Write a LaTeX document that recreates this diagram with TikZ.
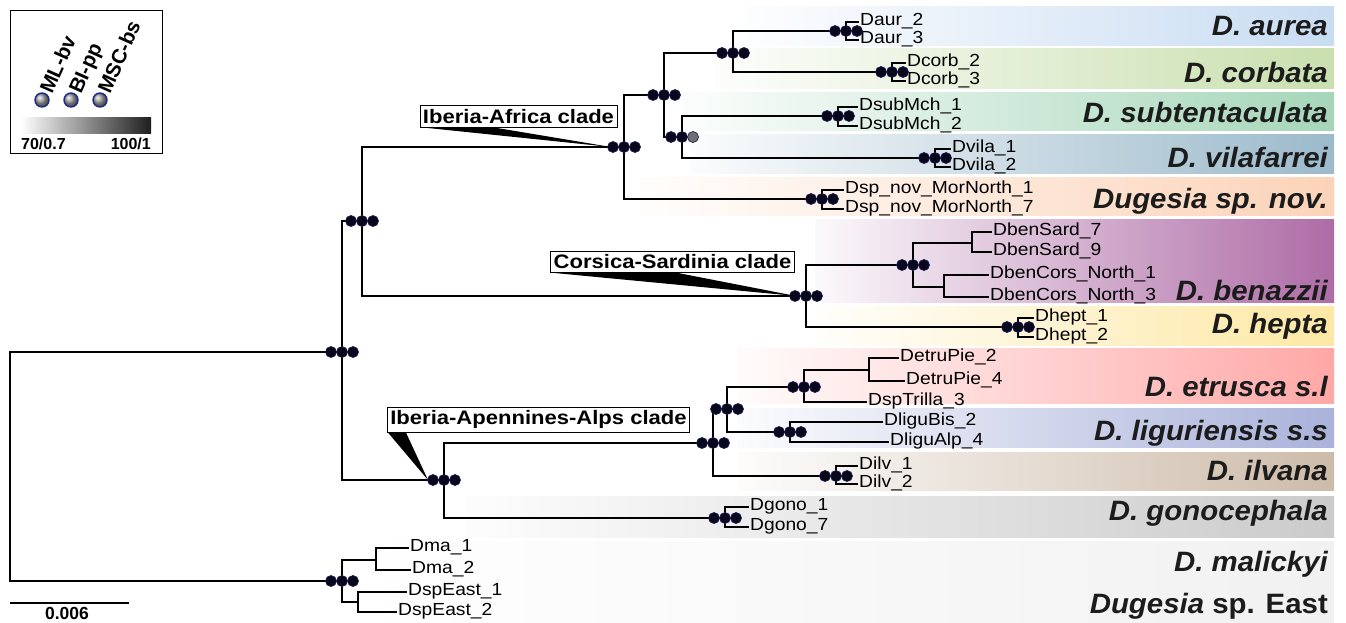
\documentclass[tikz,border=0pt]{standalone}
\usepackage{fontspec}
\setmainfont{Liberation Sans}
\newfontfamily\tipf[FakeStretch=1.1]{Liberation Sans}
\newfontfamily\spf[FakeStretch=1.05]{Liberation Sans}
\newfontfamily\clf[FakeStretch=1.13]{Liberation Sans}
\usetikzlibrary{calc}
\definecolor{aureaC}{HTML}{C8DCF2}
\definecolor{corbC}{HTML}{C9DFAE}
\definecolor{subC}{HTML}{A5D6B9}
\definecolor{vilaC}{HTML}{9CBACB}
\definecolor{novC}{HTML}{FCD3B8}
\definecolor{benC}{HTML}{AE6CA6}
\definecolor{hepC}{HTML}{FDE8A4}
\definecolor{etrC}{HTML}{FFA8A6}
\definecolor{ligC}{HTML}{A9B2DA}
\definecolor{ilvC}{HTML}{CDBBA9}
\definecolor{gonC}{HTML}{CBCBCB}
\definecolor{malC}{HTML}{F1F1F1}
\definecolor{dotfill}{HTML}{08081A}
\definecolor{dotedge}{HTML}{1E1E5A}
\definecolor{greydot}{HTML}{707070}
\definecolor{navyC}{HTML}{1F2A8A}
\definecolor{spc}{HTML}{1C1C1C}
\newcommand{\trip}[2][dotfill]{%
  \foreach \dx in {-11pt,0pt} {\path[dotc] (#2) ++(\dx,0pt) circle (5.5pt);}
  \path[dotc, fill=#1] (#2) ++(11pt,0pt) circle (5.5pt);}
\newcommand{\tipl}[4]{%
  \coordinate (#1) at (#2);
  \draw[br] (#3) |- (#1);
  \node[tip] (#1l) at ([xshift=2pt,yshift=-3.5pt]#1) {#4};}
\newcommand{\band}[5]{\shade[left color=#5!4!white, right color=#5] (#1,#2) rectangle (#3,#4);}
\begin{document}
\begin{tikzpicture}[x=1pt,y=-1pt,
  br/.style={line width=1.8pt, line join=miter, line cap=rect},
  dotc/.style={fill=dotfill, draw=dotedge, line width=0.7pt},
  tip/.style={anchor=base west, inner sep=0pt, font=\tipf\fontsize{17.5}{20}\selectfont},
  spec/.style={anchor=base east, inner sep=0pt, text=spc, font=\spf\bfseries\itshape\fontsize{28}{30}\selectfont},
  clade/.style={draw=black, line width=0.8pt, fill=white, inner xsep=3pt, inner ysep=3.5pt, font=\clf\bfseries\fontsize{19.5}{21}\selectfont},
  legdot/.style={circle, minimum size=14pt, inner sep=0pt, shading=ball, ball color=gray!75, draw=navyC, line width=1.4pt},
  legtxt/.style={rotate=66, anchor=base west, inner sep=0pt, font=\bfseries\fontsize{20.5}{22}\selectfont},
  small/.style={inner sep=0pt, font=\bfseries\fontsize{16}{18}\selectfont}]
\useasboundingbox (0,0) rectangle (1346,622);
% ---------- coloured bands ----------
\band{745}{6}{1334}{45}{aureaC}
\band{715}{48}{1334}{88}{corbC}
\band{683}{92}{1334}{130}{subC}
\band{690}{134}{1334}{173}{vilaC}
\band{640}{177}{1334}{215}{novC}
\band{815}{219}{1334}{302}{benC}
\band{815}{306}{1334}{345}{hepC}
\band{738}{348}{1334}{403}{etrC}
\band{738}{408}{1334}{447}{ligC}
\band{738}{452}{1334}{490}{ilvC}
\band{465}{496}{1334}{537}{gonC}
\band{388}{541}{1334}{622}{malC}
% ---------- species names ----------
\node[spec] (s1) at (1328,35) {D. aurea};
\node[spec] (s2) at (1328,82) {D. corbata};
\node[spec] (s3) at (1328,122) {D. subtentaculata};
\node[spec] (s4) at (1328,167) {D. vilafarrei};
\node[spec] (s5) at (1328,208) {Dugesia sp. nov.};
\node[spec] (s6) at (1328,300) {D. benazzii};
\node[spec] (s7) at (1328,333) {D. hepta};
\node[spec] (s8) at (1328,396) {D. etrusca s.l};
\node[spec] (s9) at (1328,440) {D. liguriensis s.s};
\node[spec] (s10) at (1328,480) {D. ilvana};
\node[spec] (s11) at (1328,520) {D. gonocephala};
\node[spec] (s12) at (1328,571) {D. malickyi};
\node[spec] (s13) at (1328,613) {Dugesia\upshape\ sp. East};
% ---------- internal nodes ----------
\coordinate (root) at (10,466);
\coordinate (A) at (342,352);
\coordinate (P) at (342,581);
\coordinate (C) at (362,221);
\coordinate (B) at (444,480);
\coordinate (D) at (624,147);
\coordinate (H) at (806,296);
\coordinate (E) at (664,95);
\coordinate (Dn) at (822,199);
\coordinate (F) at (733,53);
\coordinate (G) at (682,137);
\coordinate (Da) at (846,31);
\coordinate (Dc) at (892,72);
\coordinate (Ds) at (838,116);
\coordinate (Dv) at (935,158);
\coordinate (I) at (913,265);
\coordinate (Dh) at (1018,327);
\coordinate (Bs) at (972,243);
\coordinate (Bc) at (944,287);
\coordinate (J) at (713,443);
\coordinate (Dg) at (725,518);
\coordinate (K) at (727,409);
\coordinate (Dl) at (836,476);
\coordinate (L) at (804,387);
\coordinate (N) at (790,432);
\coordinate (M) at (869,370);
\coordinate (Ma) at (376,560);
\coordinate (Me) at (358,602);
% ---------- branches ----------
\draw[br] (root) |- (A);
\draw[br] (root) |- (P);
\draw[br] (A) |- (C);
\draw[br] (A) |- (B);
\draw[br] (C) |- (D);
\draw[br] (C) |- (H);
\draw[br] (D) |- (E);
\draw[br] (D) |- (Dn);
\draw[br] (E) |- (F);
\draw[br] (E) |- (G);
\draw[br] (F) |- (Da);
\draw[br] (F) |- (Dc);
\draw[br] (G) |- (Ds);
\draw[br] (G) |- (Dv);
\draw[br] (H) |- (I);
\draw[br] (H) |- (Dh);
\draw[br] (I) |- (Bs);
\draw[br] (I) |- (Bc);
\draw[br] (B) |- (J);
\draw[br] (B) |- (Dg);
\draw[br] (J) |- (K);
\draw[br] (J) |- (Dl);
\draw[br] (K) |- (L);
\draw[br] (K) |- (N);
\draw[br] (L) |- (M);
\draw[br] (P) |- (Ma);
\draw[br] (P) |- (Me);
% ---------- tips ----------
\tipl{t1}{858,22}{Da}{Daur\_2}
\tipl{t2}{858,40}{Da}{Daur\_3}
\tipl{t3}{905,63}{Dc}{Dcorb\_2}
\tipl{t4}{905,81}{Dc}{Dcorb\_3}
\tipl{t5}{857,107}{Ds}{DsubMch\_1}
\tipl{t6}{857,126}{Ds}{DsubMch\_2}
\tipl{t7}{950,149}{Dv}{Dvila\_1}
\tipl{t8}{950,167}{Dv}{Dvila\_2}
\tipl{t9}{843,190}{Dn}{Dsp\_nov\_MorNorth\_1}
\tipl{t10}{843,209}{Dn}{Dsp\_nov\_MorNorth\_7}
\tipl{t11}{991,232}{Bs}{DbenSard\_7}
\tipl{t12}{991,252}{Bs}{DbenSard\_9}
\tipl{t13}{988,275}{Bc}{DbenCors\_North\_1}
\tipl{t14}{988,297}{Bc}{DbenCors\_North\_3}
\tipl{t15}{1033,318}{Dh}{Dhept\_1}
\tipl{t16}{1033,337}{Dh}{Dhept\_2}
\tipl{t17}{898,358}{M}{DetruPie\_2}
\tipl{t18}{904,381}{M}{DetruPie\_4}
\tipl{t19}{866,402}{L}{DspTrilla\_3}
\tipl{t20}{882,422}{N}{DliguBis\_2}
\tipl{t21}{888,442}{N}{DliguAlp\_4}
\tipl{t22}{857,466}{Dl}{Dilv\_1}
\tipl{t23}{857,484}{Dl}{Dilv\_2}
\tipl{t24}{748,507}{Dg}{Dgono\_1}
\tipl{t25}{748,527}{Dg}{Dgono\_7}
\tipl{t26}{408,548}{Ma}{Dma\_1}
\tipl{t27}{410,570}{Ma}{Dma\_2}
\tipl{t28}{406,592}{Me}{DspEast\_1}
\tipl{t29}{396,612}{Me}{DspEast\_2}
% ---------- support dots ----------
\trip{A}\trip{P}\trip{C}\trip{B}\trip{D}\trip{H}\trip{E}\trip{F}
\trip[greydot]{G}
\trip{Da}\trip{Dc}\trip{Ds}\trip{Dv}\trip{Dn}\trip{I}\trip{Dh}
\trip{J}\trip{K}\trip{L}\trip{N}\trip{Dl}\trip{Dg}
% ---------- clade labels ----------
\node[clade] (iaf) at (518.5,116.5) {Iberia-Africa clade};
\fill ([xshift=4pt]iaf.south west) -- ([xshift=75pt]iaf.south west) -- ([xshift=-13pt]D) -- cycle;
\node[clade] (cs) at (672.5,262) {Corsica-Sardinia clade};
\fill ([xshift=5pt]cs.south west) -- ([xshift=128pt]cs.south west) -- ([xshift=-10pt]H) -- cycle;
\node[clade] (iaa) at (538.5,419.5) {Iberia-Apennines-Alps clade};
\fill ([xshift=1pt]iaa.south west) -- ([xshift=19pt]iaa.south west) -- ([xshift=-16pt]B) -- cycle;
% ---------- legend ----------
\draw[line width=0.8pt] (10,10) rectangle (162,153);
\node[legdot] (c1) at (42,100) {};
\node[legdot] (c2) at (71,100) {};
\node[legdot] (c3) at (100,100) {};
\node[legtxt] (lt1) at ([xshift=10pt,yshift=5pt]c1) {ML-bv};
\node[legtxt] (lt2) at ([xshift=10pt,yshift=5pt]c2) {BI-pp};
\node[legtxt] (lt3) at ([xshift=10pt,yshift=5pt]c3) {MSC-bs};
\shade[left color=white, right color=black!88] (21,117) rectangle (151,133);
\node[small, anchor=base west] (g1) at (21,149) {70/0.7};
\node[small, anchor=base east] (g2) at (151,149) {100/1};
% ---------- scale bar ----------
\coordinate (sb1) at (10,603);
\coordinate (sb2) at (129,603);
\draw[line width=1.3pt] (sb1) -- (sb2);
\node[small, anchor=base, font=\bfseries\fontsize{17.5}{19}\selectfont] (sbl) at (67,619) {0.006};
\end{tikzpicture}
\end{document}
